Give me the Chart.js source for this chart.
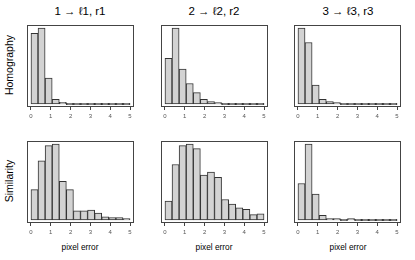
<!DOCTYPE html>
<html>
<head>
<meta charset="utf-8">
<script src="https://cdn.jsdelivr.net/npm/chart.js@4"></script>
<style>
    body { margin: 0; background: #fff; }
    #wrap { position: relative; width: 415px; height: 260px; overflow: hidden; font-family: "Liberation Sans", Arial, sans-serif; }
    .panel { position: absolute; width: 115px; height: 102px; }
    .title { position: absolute; top: 5px; width: 140px; margin-left: -70px; text-align: center; font-size: 11.5px; color: #000; }
    .rowlab { position: absolute; left: 9px; width: 100px; margin-left: -50px; text-align: center; font-size: 10.5px; transform: rotate(-90deg); }
    .xlab { position: absolute; top: 242px; width: 100px; margin-left: -50px; text-align: center; font-size: 8.3px; }
</style>
</head>
<body>
<div id="wrap">
    <div class="title" style="left:80px">1 → ℓ1, r1</div>
    <div class="title" style="left:214px">2 → ℓ2, r2</div>
    <div class="title" style="left:348px">3 → ℓ3, r3</div>

    <div class="rowlab" style="top:59px">Homography</div>
    <div class="rowlab" style="top:175px">Similarity</div>

    <div class="panel" style="left:23px;top:21px"><canvas id="h1"></canvas></div>
    <div class="panel" style="left:157px;top:21px"><canvas id="h2"></canvas></div>
    <div class="panel" style="left:290px;top:21px"><canvas id="h3"></canvas></div>
    <div class="panel" style="left:23px;top:137px"><canvas id="s1"></canvas></div>
    <div class="panel" style="left:157px;top:137px"><canvas id="s2"></canvas></div>
    <div class="panel" style="left:290px;top:137px"><canvas id="s3"></canvas></div>

    <div class="xlab" style="left:80px">pixel error</div>
    <div class="xlab" style="left:214px">pixel error</div>
    <div class="xlab" style="left:348px">pixel error</div>
</div>

<script>
// limites dos intervalos do histograma (14 classes de 0 a 5)
var breaks = [0, 0.357, 0.714, 1.071, 1.429, 1.786, 2.143, 2.5, 2.857, 3.214, 3.571, 3.929, 4.286, 4.643, 5];
var xTicks = [0, 1, 2, 3, 4, 5];

// contagens
var homography1 = [93, 100, 34, 6, 2, 0, 0, 0, 0, 0, 0, 0, 0, 0];
var homography2 = [60, 100, 46, 27, 15, 6, 3, 1, 0, 0, 0, 0, 0, 0];
var homography3 = [100, 81, 25, 6, 3, 1, 0, 0, 0, 0, 0, 0, 0, 0];
var similarity1 = [40, 78, 98, 100, 51, 40, 12, 12, 13, 9, 4, 3, 3, 1];
var similarity2 = [25, 73, 98, 100, 94, 59, 63, 56, 27, 21, 16, 14, 7, 8];
var similarity3 = [48, 100, 34, 6, 1, 1, 0, 1, 0, 0, 0, 0, 0, 0];

// moldura em volta da área do gráfico (box() do R)
var boxPlugin = {
    id: 'boxPlugin',
    afterDraw: function (chart) {
        var a = chart.chartArea;
        var ctx = chart.ctx;
        ctx.save();
        ctx.strokeStyle = '#444';
        ctx.lineWidth = 1;
        ctx.strokeRect(Math.round(a.left) + 0.5, Math.round(a.top) + 0.5,
            Math.round(a.right - a.left) - 1, Math.round(a.bottom - a.top) - 1);
        ctx.restore();
    }
};

function makeHist(id, counts) {
    var points = [];
    for (var i = 0; i < counts.length; i++) {
        points.push({ x: (breaks[i] + breaks[i + 1]) / 2, y: counts[i] });
    }
    var top = Math.max.apply(null, counts);
    var ctx = document.getElementById(id).getContext('2d');
    new Chart(ctx, {
        type: 'bar',
        data: {
            datasets: [{
                data: points,
                backgroundColor: '#d3d3d3',
                borderColor: '#333',
                borderWidth: 1,
                borderSkipped: false,
                minBarLength: 1.5,
                barPercentage: 1,
                categoryPercentage: 1
            }]
        },
        options: {
            responsive: true,
            maintainAspectRatio: false,
            animation: false,
            layout: { padding: { left: 4, right: 4, top: 4, bottom: 0 } },
            plugins: { legend: { display: false }, tooltip: { enabled: false } },
            scales: {
                x: {
                    type: 'linear',
                    offset: false,
                    min: -0.2,
                    max: 5.2,
                    afterBuildTicks: function (scale) {
                        scale.ticks = xTicks.map(function (v) { return { value: v }; });
                    },
                    afterFit: function (scale) { scale.height = 16; },
                    grid: { display: true, offset: false, drawOnChartArea: false, drawTicks: true, tickLength: 3, color: '#444' },
                    border: { display: false },
                    ticks: { padding: 3, maxRotation: 0, font: { size: 6, family: 'Liberation Sans' }, color: '#555' }
                },
                y: {
                    display: false,
                    min: -0.04 * top,
                    max: 1.04 * top
                }
            }
        },
        plugins: [boxPlugin]
    });
}

makeHist('h1', homography1);
makeHist('h2', homography2);
makeHist('h3', homography3);
makeHist('s1', similarity1);
makeHist('s2', similarity2);
makeHist('s3', similarity3);
</script>
</body>
</html>
